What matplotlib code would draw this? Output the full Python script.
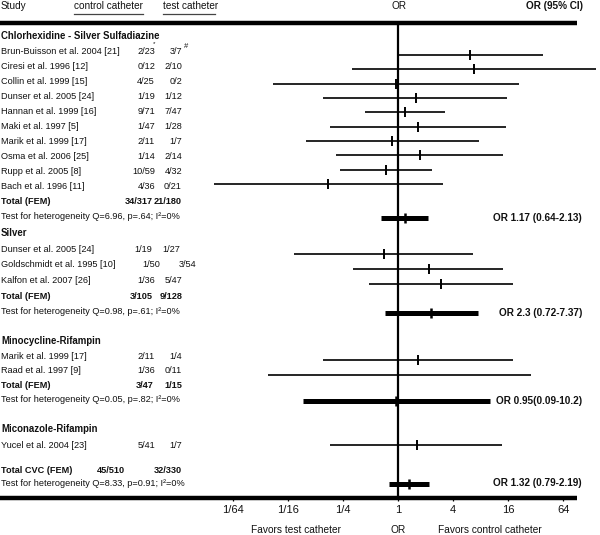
"""Forest plot of catheter-related infection odds ratios by catheter type."""

import matplotlib

matplotlib.use("Agg")
import matplotlib.pyplot as plt

plt.rcParams["font.family"] = ["Liberation Sans", "DejaVu Sans"]

# --- data ------------------------------------------------------------------
cs_studies = ["Brun-Buisson et al. 2004 [21]", "Ciresi et al. 1996 [12]", "Collin et al. 1999 [15]",
              "Dunser et al. 2005 [24]", "Hannan et al. 1999 [16]", "Maki et al. 1997 [5]",
              "Marik et al. 1999 [17]", "Osma et al. 2006 [25]", "Rupp et al. 2005 [8]",
              "Bach et al. 1996 [11]"]
cs_control = ["2/23", "0/12", "4/25", "1/19", "9/71", "1/47", "2/11", "1/14", "10/59", "4/36"]
cs_test = ["3/7", "2/10", "0/2", "1/12", "7/47", "1/28", "1/7", "2/14", "4/32", "0/21"]
cs_or = [6.1, 6.7, 0.94, 1.55, 1.18, 1.63, 0.85, 1.71, 0.73, 0.17]
cs_lo = [0.98, 0.31, 0.042, 0.15, 0.43, 0.18, 0.098, 0.21, 0.23, 0.0096]
cs_hi = [38.7, 146.0, 20.9, 15.5, 3.22, 15.1, 7.65, 14.1, 2.32, 3.11]

ag_studies = ["Dunser et al. 2005 [24]", "Goldschmidt et al. 1995 [10]", "Kalfon et al. 2007 [26]"]
ag_control = ["1/19", "1/50", "1/36"]
ag_test = ["1/27", "3/54", "5/47"]
ag_or = [0.70, 2.15, 2.91]
ag_lo = [0.073, 0.32, 0.48]
ag_hi = [6.6, 14.1, 17.9]

mr_studies = ["Marik et al. 1999 [17]", "Raad et al. 1997 [9]"]
mr_control = ["2/11", "1/36"]
mr_test = ["1/4", "0/11"]
mr_or = [1.64, 1.0]
mr_lo = [0.149, 0.037]
mr_hi = [17.9, 28.6]

mz_studies = ["Yucel et al. 2004 [23]"]
mz_control = ["5/41"]
mz_test = ["1/7"]
mz_or = [1.59]
mz_lo = [0.18]
mz_hi = [13.8]

group_names = ["Chlorhexidine - Silver Sulfadiazine", "Silver", "Minocycline-Rifampin",
               "Miconazole-Rifampin"]
pooled_control = ["34/317", "3/105", "3/47", None]
pooled_test = ["21/180", "9/128", "1/15", None]
pooled_or = [1.17, 2.3, 0.95, None]
pooled_lo = [0.64, 0.72, 0.09, None]
pooled_hi = [2.13, 7.37, 10.2, None]
pooled_label = ["OR 1.17 (0.64-2.13)", "OR 2.3 (0.72-7.37)", "OR 0.95(0.09-10.2)", None]
heterogeneity = ["Q=6.96, p=.64", "Q=0.98, p=.61", "Q=0.05, p=.82", None]

overall = dict(control="45/510", test="32/330", OR=1.32, lo=0.79, hi=2.19,
               label="OR 1.32 (0.79-2.19)", het="Q=8.33, p=0.91")

tick_values = [1 / 64, 1 / 16, 1 / 4, 1, 4, 16, 64]
tick_labels = ["1/64", "1/16", "1/4", "1", "4", "16", "64"]

# --- layout (pixels, y downwards) ------------------------------------------
W, H = 600, 535
or_one_px, px_per_doubling = 398.3, 27.5
top_y, bottom_y, rule_end = 22.7, 498.0, 577.0
ctrl_x, test_x = 155, 182
header_y = [36.0, 233.3, 341.5, 429.3]
text_step = [15.08, 15.7, 14.6, 15.7]
line_first = [55.0, 254.4, 360.0, 445.0]
line_step = [14.35, 14.7, 15.0, 15.0]
col_override = {"Goldschmidt et al. 1995 [10]": (160, 196), "Dunser et al. 2005 [24]": (152, 180)}

groups = [
    (cs_studies, cs_control, cs_test, cs_or, cs_lo, cs_hi),
    (ag_studies, ag_control, ag_test, ag_or, ag_lo, ag_hi),
    (mr_studies, mr_control, mr_test, mr_or, mr_lo, mr_hi),
    (mz_studies, mz_control, mz_test, mz_or, mz_lo, mz_hi),
]

fig = plt.figure(figsize=(W / 100, H / 100), dpi=100)
ax = fig.add_axes([0, 0, 1, 1])
ax.set_xlim(0, W)
ax.set_ylim(H, 0)
ax.axis("off")

fx = fig.add_axes([0, 0, 1, 1])
fx.set_xscale("log", base=2)
fx.set_xlim(2 ** (-or_one_px / px_per_doubling), 2 ** ((W - or_one_px) / px_per_doubling))
fx.set_ylim(H, 0)
fx.axis("off")
fx.patch.set_alpha(0)

ink = "#111111"
fs, fs_head = 6.6, 7.2

# header
ax.text(1, 6, "Study", fontsize=fs_head, va="center", color=ink)
ax.text(74, 6, "control catheter", fontsize=fs_head, va="center", color=ink)
ax.text(163, 6, "test catheter", fontsize=fs_head, va="center", color=ink)
ax.plot([74, 143], [13.5, 13.5], color="#444444", lw=0.9)
ax.plot([163, 215], [13.5, 13.5], color="#444444", lw=0.9)
ax.text(or_one_px + 1, 6, "OR", fontsize=fs_head, ha="center", va="center", color=ink)
ax.text(583, 6, "OR (95% CI)", fontsize=fs_head, ha="right", va="center", weight="bold", color=ink)

ax.plot([0, rule_end], [top_y, top_y], color="black", lw=3.2, solid_capstyle="butt")
ax.plot([0, rule_end], [bottom_y, bottom_y], color="black", lw=3.2, solid_capstyle="butt")
fx.vlines(1, top_y, bottom_y, color="black", lw=1.6)


def het_text(q):
    return f"Test for heterogeneity {q}; I\u00b2=0%"


for g, (studies, ctrl, test, ors, los, his) in enumerate(groups):
    hy, step = header_y[g], text_step[g]
    ax.text(1, hy, group_names[g], fontsize=6.9, weight="bold", va="center", color=ink)
    for i, name in enumerate(studies):
        ty = hy + step * (i + 1)
        cx, tx = col_override.get(name, (ctrl_x, test_x)) if g == 1 else (ctrl_x, test_x)
        ax.text(1, ty, name, fontsize=fs, va="center", color=ink)
        ax.text(cx, ty, ctrl[i], fontsize=fs, va="center", ha="right", color=ink)
        ax.text(tx, ty, test[i], fontsize=fs, va="center", ha="right", color=ink)
        ly = line_first[g] + line_step[g] * i
        fx.hlines(ly, los[i], his[i], color="black", lw=1.2)
        fx.plot(ors[i], ly, marker="|", ms=7, mew=1.4, color="black")
    if g == 0:
        ax.text(154, hy + step - 8, "*", fontsize=4.5, ha="center", va="center", color=ink)
        ax.text(186, hy + step - 5, "#", fontsize=5.5, ha="center", va="center", color=ink)
    if pooled_or[g] is None:
        continue
    n = len(studies)
    tot_y = hy + step * (n + 1)
    het_y = hy + step * (n + 2)
    ax.text(1, tot_y, "Total (FEM)", fontsize=fs, weight="bold", va="center", color=ink)
    ax.text(153, tot_y, pooled_control[g], fontsize=fs, weight="bold", va="center", ha="right", color=ink)
    ax.text(182, tot_y, pooled_test[g], fontsize=fs, weight="bold", va="center", ha="right", color=ink)
    ax.text(1, het_y, het_text(heterogeneity[g]), fontsize=fs, va="center", color=ink)
    fx.hlines(het_y + 0.8, pooled_lo[g], pooled_hi[g], color="black", lw=3.6)
    fx.plot(pooled_or[g], het_y + 0.8, marker="|", ms=7, mew=1.8, color="black")
    ax.text(582, het_y + 0.8, pooled_label[g], fontsize=fs_head, weight="bold", ha="right",
            va="center", color=ink)

# overall
tot_y, het_y = 470.7, 484.0
ax.text(1, tot_y, "Total CVC (FEM)", fontsize=fs, weight="bold", va="center", color=ink)
ax.text(125, tot_y, overall["control"], fontsize=fs, weight="bold", va="center", ha="right", color=ink)
ax.text(182, tot_y, overall["test"], fontsize=fs, weight="bold", va="center", ha="right", color=ink)
ax.text(1, het_y, het_text(overall["het"]), fontsize=fs, va="center", color=ink)
fx.hlines(het_y, overall["lo"], overall["hi"], color="black", lw=3.6)
fx.plot(overall["OR"], het_y, marker="|", ms=7, mew=1.8, color="black")
ax.text(582, het_y - 1, overall["label"], fontsize=fs_head, weight="bold", ha="right", va="center",
        color=ink)

# axis ticks and labels
for v, lab in zip(tick_values, tick_labels):
    fx.vlines(v, bottom_y, bottom_y + 3, color="black", lw=0.9)
    fx.text(v, 510, lab, fontsize=8, ha="center", va="center", color=ink)
fx.text(1, 530, "OR", fontsize=7.3, ha="center", va="center", color=ink)
ax.text(296, 530, "Favors test catheter", fontsize=7.3, ha="center", va="center", color=ink)
ax.text(489.5, 530, "Favors control catheter", fontsize=7.3, ha="center", va="center", color=ink)

fig.savefig("out.png", dpi=100)
